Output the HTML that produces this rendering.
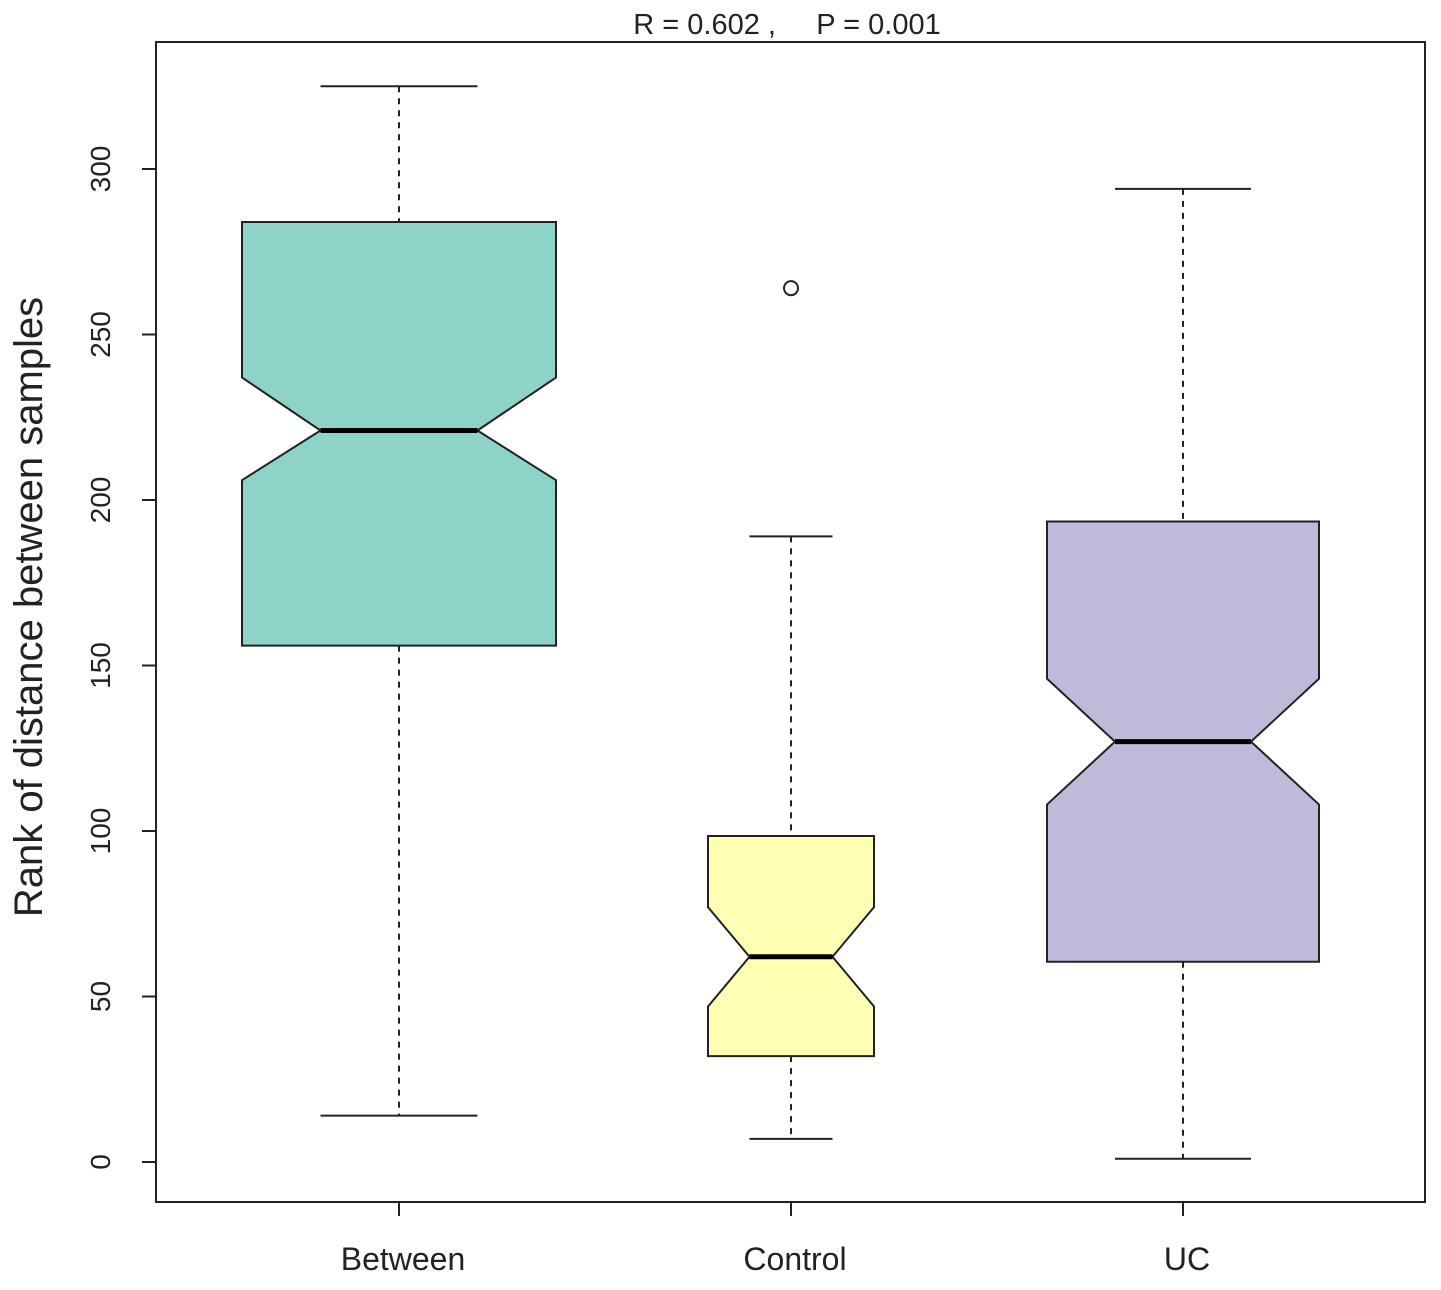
<!DOCTYPE html>
<html><head><meta charset="utf-8"><style>
body{margin:0;background:#fff}
svg text{font-family:"Liberation Sans",Arial,sans-serif;fill:#222}
</style></head><body>
<svg id="chart" width="1441" height="1285" xmlns="http://www.w3.org/2000/svg">
<rect x="156" y="42" width="1269" height="1160" fill="none" stroke="#222" stroke-width="2"/>
<text x="787" y="34" font-size="29" text-anchor="middle" style="white-space:pre">R = 0.602 ,     P = 0.001</text>
<text transform="translate(42,607) rotate(-90)" font-size="40" text-anchor="middle">Rank of distance between samples</text>
<g id="g"></g>
</svg>
<script>
const categories=["Between","Control","UC"];
const whiskerMax=[325,189,294];
const q3=[284,98.5,193.5];
const notchHigh=[237,77,146];
const medians=[221,62,127];
const notchLow=[206,47,108];
const q1=[156,32,60.5];
const whiskerMin=[14,7,1];
const outliers=[[],[264],[]];
const yTicks=[0,50,100,150,200,250,300];
const colors=["#8dd3c7","#ffffb3","#bebada"];
const halfW=[157,83,136];
const y=v=>1162-v*3.31;
const x=i=>399+i*392;
const g=document.getElementById('g');
const NS="http://www.w3.org/2000/svg";
function mk(t,a){const e=document.createElementNS(NS,t);for(const k in a)e.setAttribute(k,a[k]);g.appendChild(e);return e;}
yTicks.forEach(t=>{
 const l=mk('line',{x1:142,x2:156,y1:y(t),y2:y(t),stroke:'#222','stroke-width':2});
 
 
 const tx=mk('text',{transform:`translate(110,${y(t)}) rotate(-90)`,'font-size':28,'text-anchor':'middle'});
 tx.textContent=t;
 
 
});
categories.forEach((c,i)=>{
 const cx=x(i),h=halfW[i],m=h/2;
 const t=mk('line',{x1:cx,x2:cx,y1:1202,y2:1216,stroke:'#222','stroke-width':2});
 
 
 const lb=mk('text',{x:cx+4,y:1270,'font-size':32,'text-anchor':'middle'});
 lb.textContent=c;
 
 
 const w1=mk('line',{x1:cx,x2:cx,y1:y(whiskerMax[i]),y2:y(q3[i]),stroke:'#222','stroke-width':2,'stroke-dasharray':'6,6'});
 
 
 const w2=mk('line',{x1:cx,x2:cx,y1:y(q1[i]),y2:y(whiskerMin[i]),stroke:'#222','stroke-width':2,'stroke-dasharray':'6,6'});
 
 
 [whiskerMax[i],whiskerMin[i]].forEach(v=>{
  const cap=mk('line',{x1:cx-m,x2:cx+m,y1:y(v),y2:y(v),stroke:'#222','stroke-width':2});
  
  
 });
 const pts=[[cx-h,y(q3[i])],[cx+h,y(q3[i])],[cx+h,y(notchHigh[i])],[cx+m,y(medians[i])],[cx+h,y(notchLow[i])],[cx+h,y(q1[i])],[cx-h,y(q1[i])],[cx-h,y(notchLow[i])],[cx-m,y(medians[i])],[cx-h,y(notchHigh[i])]];
 const b=mk('polygon',{points:pts.map(p=>p.join(',')).join(' '),fill:colors[i],stroke:'#222','stroke-width':2});
 
 
 const md=mk('line',{x1:cx-m,x2:cx+m,y1:y(medians[i]),y2:y(medians[i]),stroke:'#000','stroke-width':5});
 
 
 outliers[i].forEach(v=>{
  const o=mk('circle',{cx:cx,cy:y(v),r:7,fill:'none',stroke:'#222','stroke-width':2});
  
  
 });
});
</script>
</body></html>
